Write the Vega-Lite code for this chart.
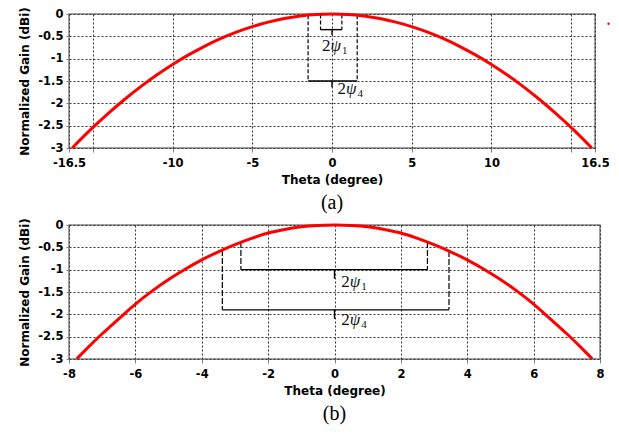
{
  "$schema": "https://vega.github.io/schema/vega-lite/v6.json",
  "padding": {"left": 18, "top": 5, "right": 4, "bottom": 4},
  "spacing": 2,
  "datasets": {
    "curveA": [
      {"x": -16.3, "y": -3.0}, {"x": -15, "y": -2.54}, {"x": -14, "y": -2.213}, {"x": -13, "y": -1.908},
      {"x": -12, "y": -1.626}, {"x": -11, "y": -1.366}, {"x": -10, "y": -1.129}, {"x": -9, "y": -0.915},
      {"x": -8, "y": -0.723}, {"x": -7, "y": -0.553}, {"x": -6, "y": -0.406}, {"x": -5, "y": -0.282},
      {"x": -4, "y": -0.181}, {"x": -3, "y": -0.102}, {"x": -2, "y": -0.045}, {"x": -1, "y": -0.011},
      {"x": 0, "y": 0.0},
      {"x": 1, "y": -0.011}, {"x": 2, "y": -0.045}, {"x": 3, "y": -0.102}, {"x": 4, "y": -0.181},
      {"x": 5, "y": -0.282}, {"x": 6, "y": -0.406}, {"x": 7, "y": -0.553}, {"x": 8, "y": -0.723},
      {"x": 9, "y": -0.915}, {"x": 10, "y": -1.129}, {"x": 11, "y": -1.366}, {"x": 12, "y": -1.626},
      {"x": 13, "y": -1.908}, {"x": 14, "y": -2.213}, {"x": 15, "y": -2.54}, {"x": 16.3, "y": -3.0}
    ],
    "capsA": [
      {"x": -0.72, "y": -0.01, "y2": -0.35}, {"x": 0.62, "y": -0.01, "y2": -0.35},
      {"x": -1.5, "y": -0.03, "y2": -1.5}, {"x": 1.58, "y": -0.03, "y2": -1.5}
    ],
    "barsA": [
      {"x": -0.72, "x2": 0.62, "y": -0.35},
      {"x": -1.5, "x2": 1.58, "y": -1.5}
    ],
    "notchA": [
      {"x": 0, "y": -0.35, "y2": -0.47},
      {"x": 0, "y": -1.5, "y2": -1.64}
    ],
    "tagsA": [
      {"x": -0.62, "y": -0.72, "sub": "1"},
      {"x": 0.35, "y": -1.69, "sub": "4"}
    ],
    "strayA": [
      {"x": 17.35, "y": -0.22}
    ],
    "curveB": [
      {"x": -7.77, "y": -3.0}, {"x": -7.5, "y": -2.795}, {"x": -7, "y": -2.435}, {"x": -6.5, "y": -2.1},
      {"x": -6, "y": -1.77}, {"x": -5.5, "y": -1.48}, {"x": -5, "y": -1.22}, {"x": -4.5, "y": -0.99},
      {"x": -4, "y": -0.78}, {"x": -3.5, "y": -0.6}, {"x": -3, "y": -0.44}, {"x": -2.5, "y": -0.3},
      {"x": -2, "y": -0.18}, {"x": -1.5, "y": -0.1}, {"x": -1, "y": -0.04}, {"x": -0.5, "y": -0.01},
      {"x": 0, "y": 0.0},
      {"x": 0.5, "y": -0.01}, {"x": 1, "y": -0.04}, {"x": 1.5, "y": -0.1}, {"x": 2, "y": -0.18},
      {"x": 2.5, "y": -0.3}, {"x": 3, "y": -0.44}, {"x": 3.5, "y": -0.6}, {"x": 4, "y": -0.78},
      {"x": 4.5, "y": -0.99}, {"x": 5, "y": -1.22}, {"x": 5.5, "y": -1.48}, {"x": 6, "y": -1.77},
      {"x": 6.5, "y": -2.1}, {"x": 7, "y": -2.435}, {"x": 7.5, "y": -2.795}, {"x": 7.77, "y": -3.0}
    ],
    "capsB": [
      {"x": -2.82, "y": -0.38, "y2": -1.0}, {"x": 2.8, "y": -0.38, "y2": -1.0},
      {"x": -3.38, "y": -0.56, "y2": -1.9}, {"x": 3.45, "y": -0.58, "y2": -1.9}
    ],
    "barsB": [
      {"x": -2.82, "x2": 2.8, "y": -1.0},
      {"x": -3.38, "x2": 3.45, "y": -1.9}
    ],
    "notchB": [
      {"x": 0, "y": -1.0, "y2": -1.2},
      {"x": 0, "y": -1.9, "y2": -2.1}
    ],
    "tagsB": [
      {"x": 0.2, "y": -1.27, "sub": "1"},
      {"x": 0.2, "y": -2.13, "sub": "4"}
    ]
  },
  "config": {
    "view": {"stroke": "#808080", "strokeWidth": 1.5},
    "axis": {
      "labelFont": "DejaVu Sans", "labelFontWeight": "bold", "labelFontSize": 11.5, "labelColor": "#000",
      "titleFont": "DejaVu Sans", "titleFontWeight": "bold", "titleFontSize": 12, "titleColor": "#000",
      "domain": false, "tickColor": "#808080", "tickWidth": 1,
      "gridColor": "#333333", "gridDash": [2, 2], "gridWidth": 1, "gridOpacity": 1,
      "labelFlush": false, "labelOverlap": false,
      "labelExpr": "toString(datum.value)"
    },
    "axisX": {"tickSize": 4, "labelPadding": 5, "titlePadding": 6},
    "axisY": {"tickSize": 3, "labelPadding": 3, "titlePadding": 6},
    "title": {"font": "Liberation Serif", "fontSize": 20, "fontWeight": "normal", "color": "#000", "orient": "bottom", "anchor": "middle", "frame": "group", "offset": 7}
  },
  "vconcat": [
    {
      "width": 526,
      "height": 134,
      "title": {"text": "(a)"},
      "encoding": {
        "x": {"field": "x", "type": "quantitative",
              "scale": {"domain": [-16.5, 16.5], "nice": false, "zero": false},
              "axis": {"title": "Theta (degree)", "values": [-16.5, -15, -10, -5, 0, 5, 10, 15, 16.5],
                       "labelExpr": "abs(datum.value) == 15 ? '' : toString(datum.value)"}},
        "y": {"field": "y", "type": "quantitative",
              "scale": {"domain": [-3, 0], "nice": false},
              "axis": {"title": "Normalized Gain (dBi)", "values": [-3, -2.5, -2, -1.5, -1, -0.5, 0]}}
      },
      "layer": [
        {"data": {"name": "capsA"}, "mark": {"type": "rule", "color": "#000", "strokeWidth": 1.2, "strokeDash": [4, 2]},
         "encoding": {"y2": {"field": "y2"}}},
        {"data": {"name": "barsA"}, "mark": {"type": "rule", "color": "#000", "strokeWidth": 1.4},
         "encoding": {"x2": {"field": "x2"}}},
        {"data": {"name": "notchA"}, "mark": {"type": "rule", "color": "#000", "strokeWidth": 1.4},
         "encoding": {"y2": {"field": "y2"}}},
        {"data": {"name": "curveA"}, "mark": {"type": "line", "color": "#ff0000", "strokeWidth": 3, "interpolate": "monotone"}},
        {"data": {"name": "strayA"}, "mark": {"type": "point", "filled": true, "color": "#ff0000", "size": 6, "opacity": 1}},
        {"data": {"name": "tagsA"}, "mark": {"type": "text", "text": "2", "font": "Liberation Serif", "fontSize": 17, "align": "left", "baseline": "middle", "color": "#111"}},
        {"data": {"name": "tagsA"}, "mark": {"type": "text", "text": "ψ", "font": "Liberation Serif", "fontStyle": "italic", "fontSize": 17, "align": "left", "baseline": "middle", "dx": 8.5, "color": "#111"}},
        {"data": {"name": "tagsA"}, "mark": {"type": "text", "font": "Liberation Serif", "fontSize": 11, "align": "left", "baseline": "middle", "dx": 20, "dy": 5, "color": "#111"},
         "encoding": {"text": {"field": "sub"}}}
      ]
    },
    {
      "width": 531,
      "height": 134,
      "title": {"text": "(b)"},
      "encoding": {
        "x": {"field": "x", "type": "quantitative",
              "scale": {"domain": [-8, 8], "nice": false, "zero": false},
              "axis": {"title": "Theta (degree)", "values": [-8, -6, -4, -2, 0, 2, 4, 6, 8]}},
        "y": {"field": "y", "type": "quantitative",
              "scale": {"domain": [-3, 0], "nice": false},
              "axis": {"title": "Normalized Gain (dBi)", "values": [-3, -2.5, -2, -1.5, -1, -0.5, 0]}}
      },
      "layer": [
        {"data": {"name": "capsB"}, "mark": {"type": "rule", "color": "#000", "strokeWidth": 1.2, "strokeDash": [6, 2]},
         "encoding": {"y2": {"field": "y2"}}},
        {"data": {"name": "barsB"}, "mark": {"type": "rule", "color": "#000", "strokeWidth": 1.4},
         "encoding": {"x2": {"field": "x2"}}},
        {"data": {"name": "notchB"}, "mark": {"type": "rule", "color": "#000", "strokeWidth": 1.4},
         "encoding": {"y2": {"field": "y2"}}},
        {"data": {"name": "curveB"}, "mark": {"type": "line", "color": "#ff0000", "strokeWidth": 3, "interpolate": "monotone"}},
        {"data": {"name": "tagsB"}, "mark": {"type": "text", "text": "2", "font": "Liberation Serif", "fontSize": 17, "align": "left", "baseline": "middle", "color": "#111"}},
        {"data": {"name": "tagsB"}, "mark": {"type": "text", "text": "ψ", "font": "Liberation Serif", "fontStyle": "italic", "fontSize": 17, "align": "left", "baseline": "middle", "dx": 8.5, "color": "#111"}},
        {"data": {"name": "tagsB"}, "mark": {"type": "text", "font": "Liberation Serif", "fontSize": 11, "align": "left", "baseline": "middle", "dx": 20, "dy": 5, "color": "#111"},
         "encoding": {"text": {"field": "sub"}}}
      ]
    }
  ]
}
